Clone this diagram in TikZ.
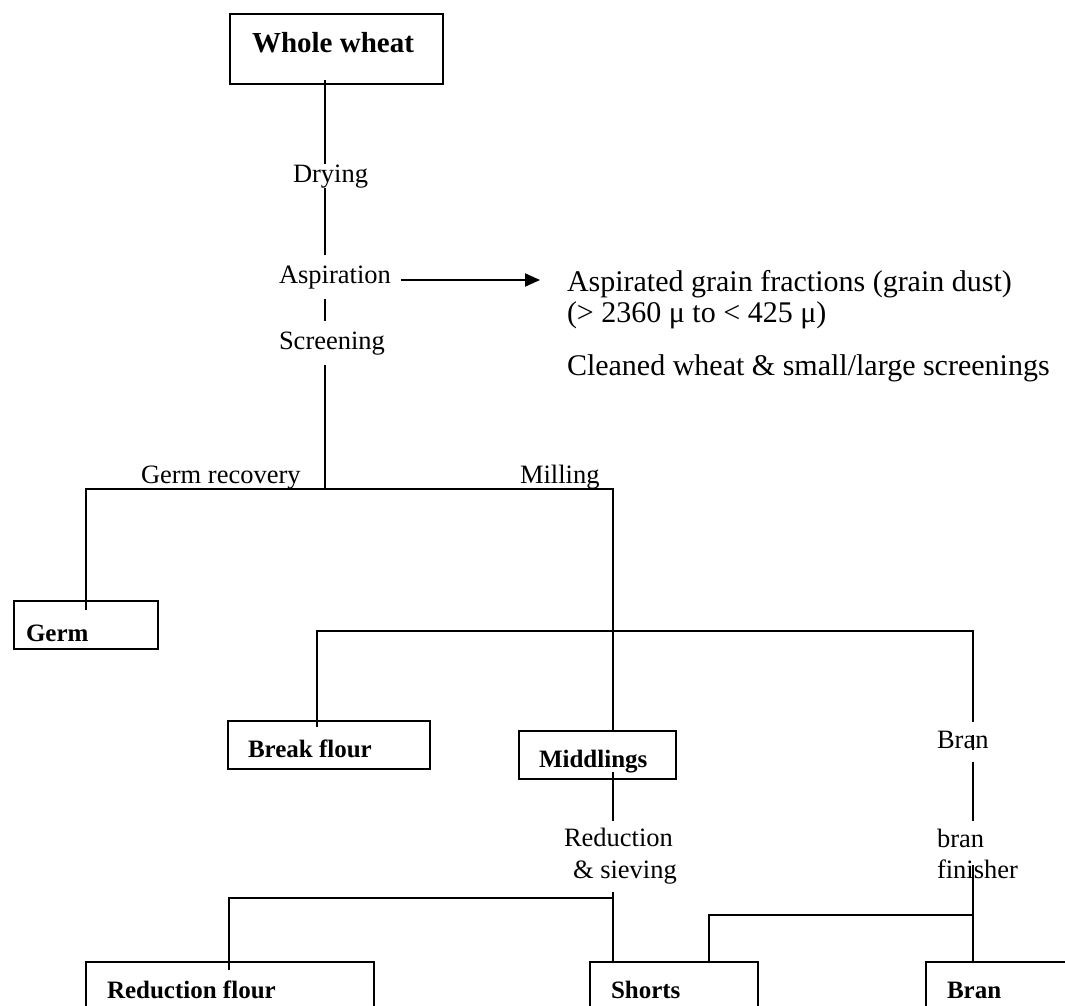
\documentclass[tikz,border=0pt]{standalone}
\usepackage{fontspec}
\setmainfont{Liberation Serif}
\usetikzlibrary{calc,arrows.meta}
\begin{document}
\begin{tikzpicture}[x=1pt,y=-1pt,
  line width=2pt,
  box/.style={draw, line width=2pt, anchor=north west, inner ysep=0pt, align=flush left,
    font=\fontsize{25}{30}\selectfont\bfseries},
  lbl/.style={anchor=base west, inner xsep=0pt, inner ysep=#1, text height=18pt, text depth=6pt,
    font=\fontsize{26.5}{31}\selectfont},
  lbl/.default=0pt,
  note/.style={anchor=base west, inner sep=0pt, font=\fontsize{30}{36}\selectfont}]
\useasboundingbox (0,0) rectangle (1065,1006);
\clip (0,0) rectangle (1065,1006);

% boxes
\node[box, inner xsep=22pt, text width=169pt, text height=39pt, text depth=31pt,
  font=\fontsize{29}{34}\selectfont\bfseries] (whole) at (229,13) {Whole wheat};
\node[box, inner xsep=12pt, text width=120pt, text height=40pt, text depth=8pt] (germ) at (13,600) {Germ};
\node[box, inner xsep=20pt, text width=162pt, text height=36pt, text depth=12pt] (bf) at (227,720) {Break flour};
\node[box, inner xsep=20pt, text width=117pt, text height=36pt, text depth=12pt] (mid) at (518,730) {Middlings};
\node[box, inner xsep=21pt, text width=246pt, text height=36pt, text depth=40pt] (redbox) at (85,961) {Reduction flour};
\node[box, inner xsep=21pt, text width=126pt, text height=36pt, text depth=40pt] (shorts) at (589,961) {Shorts};
\node[box, inner xsep=21pt, text width=140pt, text height=36pt, text depth=40pt] (branbox) at (925,961) {Bran};

% labels
\node[lbl=9pt] (asp) at (278,283) {Aspiration};
\node[lbl=9pt] (scr) at (278,349) {Screening};
\node[lbl] (germrec) at (140,483) {Germ recovery};
\node[lbl] (mill) at (519,483) {Milling};
\node[lbl=7pt] (branl) at (936,748) {Bran};
\node[lbl=7pt] (bran1) at (936,847) {bran};
\node[lbl] (fin) at (936,878) {finisher};
\node[lbl=6pt] (red1) at (563,846) {Reduction};
\node[lbl=7pt] (sie) at (572,878) {\& sieving};

% notes
\node[note] (dust) at (566,291) {Aspirated grain fractions (grain dust)};
\node[note] (range) at (566,322) {(> 2360 μ to < 425 μ)};
\node[note] (clean) at (566,375) {Cleaned wheat \& small/large screenings};

% junctions
\coordinate (spine) at (325,489);
\coordinate (jmill) at (613,489);
\coordinate (b1) at (317,631);
\coordinate (b3) at (973,631);
\coordinate (r1) at (229,898);
\coordinate (s2) at (709,915);

% connectors
\draw ($(whole.south -| spine)+(0,-5)$) -- (asp.north -| spine);
\node[lbl, fill=white] (dry) at (292,182) {Drying};
\draw (asp.south -| spine) -- (scr.north -| spine);
\draw (scr.south -| spine) -- (spine);
\draw ($(germ.north)+(0,10)$) |- (jmill) -- (jmill |- mid.north);
\draw ($(bf.north -| b1)+(0,7)$) -- (b1) -- (b3) -- (branl.north -| b3);
\draw ($(branl.base -| b3)+(0,-13)$) -- ($(branl.base -| b3)+(0,2)$);
\draw (branl.south -| b3) -- (bran1.north -| b3);
\draw ($(fin.base -| b3)+(0,-13)$) -- ($(branbox.north -| b3)+(0,2)$);
\draw (s2 |- shorts.north) -- (s2) -- (s2 -| b3);
\draw ($(mid.south -| jmill)+(0,-8)$) -- (red1.north -| jmill);
\draw (sie.south -| jmill) -- ($(shorts.north -| jmill)+(0,1)$);
\draw ($(redbox.north -| r1)+(0,9)$) -- (r1) -- (r1 -| jmill);
\draw[-{Triangle[length=15pt,width=13pt]}] ($(asp.base east)+(9,-3)$) -- ($(asp.base east -| dust.west)+(-26,-3)$);
\end{tikzpicture}
\end{document}
